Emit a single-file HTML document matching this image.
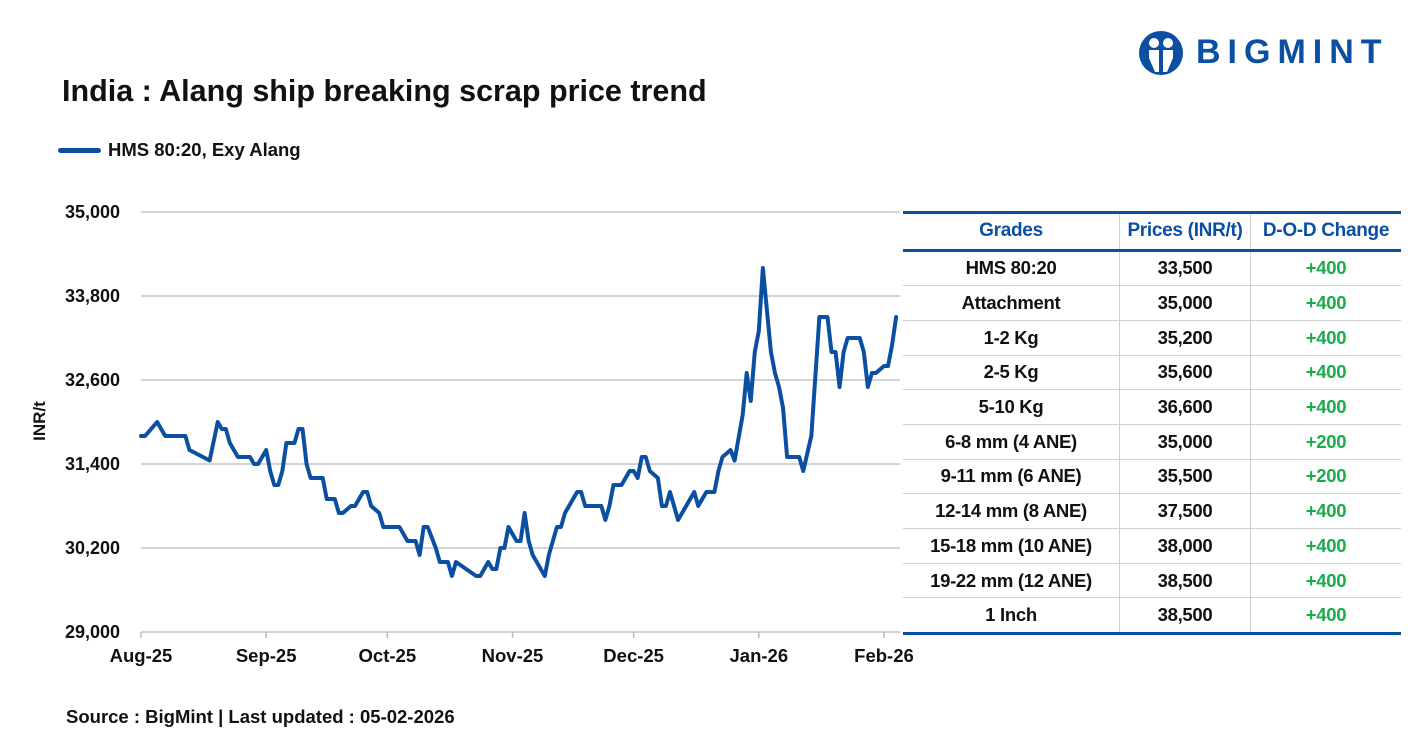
<!DOCTYPE html>
<html><head><meta charset="utf-8"><style>
body{margin:0;width:1410px;height:736px;background:#fff;font-family:"Liberation Sans",sans-serif;overflow:hidden;position:relative}
.t{position:absolute;font-weight:bold;color:#111;white-space:nowrap}
table{position:absolute;left:903px;top:211px;width:498px;border-collapse:collapse;font-family:"Liberation Sans",sans-serif;font-weight:bold;font-size:18.5px;letter-spacing:-0.3px}
th{color:#0b4fa3;height:34.5px;border-top:3px solid #0b4fa3;border-bottom:3px solid #0b4fa3;padding:0;font-size:19px}
td{height:33.7px;padding:0;text-align:center;border-bottom:1.5px solid #d0d0d0;color:#111}
td+td,th+th{border-left:1.5px solid #d0d0d0}
tr:last-child td{border-bottom:3px solid #0b4fa3}
.g{color:#1aab4a}
</style></head><body>
<div class="t" style="left:1138px;top:30px;width:250px;height:46px">
<svg width="46" height="46" viewBox="0 0 46 46" style="position:absolute;left:0;top:0"><circle cx="23" cy="23" r="22" fill="#0b4fa3"/><circle cx="16" cy="13" r="5" fill="#fff"/><circle cx="30" cy="13" r="5" fill="#fff"/><path d="M11 20 h10 v22 h-4 l-6 -14z M25 20 h10 l0 8 -6 14 h-4z" fill="#fff"/></svg>
<span style="position:absolute;left:58px;top:3px;font-size:34px;color:#0b4fa3;letter-spacing:7px;font-weight:900">BIGMINT</span></div>
<div class="t" style="left:62px;top:74px;font-size:30.5px">India : Alang ship breaking scrap price trend</div>
<div style="position:absolute;left:58px;top:148px;width:43px;height:5px;border-radius:3px;background:#0b4fa3"></div>
<div class="t" style="left:108px;top:139px;font-size:18.5px">HMS 80:20, Exy Alang</div>
<div class="t" style="left:20px;top:411px;font-size:17px;transform:rotate(-90deg);transform-origin:center">INR/t</div>
<div class="t" style="left:66px;top:706px;font-size:18.5px">Source : BigMint | Last updated : 05-02-2026</div>
<svg id="chart" width="1410" height="736" style="position:absolute;left:0;top:0"></svg>
<table>
<tr><th style="width:216px">Grades</th><th style="width:130px">Prices (INR/t)</th><th>D-O-D Change</th></tr>
<tr><td>HMS 80:20</td><td>33,500</td><td class="g">+400</td></tr>
<tr><td>Attachment</td><td>35,000</td><td class="g">+400</td></tr>
<tr><td>1-2 Kg</td><td>35,200</td><td class="g">+400</td></tr>
<tr><td>2-5 Kg</td><td>35,600</td><td class="g">+400</td></tr>
<tr><td>5-10 Kg</td><td>36,600</td><td class="g">+400</td></tr>
<tr><td>6-8 mm (4 ANE)</td><td>35,000</td><td class="g">+200</td></tr>
<tr><td>9-11 mm (6 ANE)</td><td>35,500</td><td class="g">+200</td></tr>
<tr><td>12-14 mm (8 ANE)</td><td>37,500</td><td class="g">+400</td></tr>
<tr><td>15-18 mm (10 ANE)</td><td>38,000</td><td class="g">+400</td></tr>
<tr><td>19-22 mm (12 ANE)</td><td>38,500</td><td class="g">+400</td></tr>
<tr><td>1 Inch</td><td>38,500</td><td class="g">+400</td></tr>
</table>
<script>
const days=[0,1,4,6,11,12,17,19,20,21,22,24,27,28,29,31,32,33,34,35,36,38,39,40,41,42,45,46,48,49,50,52,53,55,56,57,59,60,64,66,68,69,70,71,73,74,76,77,78,83,84,86,87,88,89,90,91,93,94,95,96,97,100,101,103,104,105,108,109,110,114,115,116,117,119,121,122,123,124,125,126,128,129,130,131,133,135,137,138,140,142,143,144,146,147,149,150,151,152,153,154,156,157,158,159,160,163,164,166,168,170,171,172,173,174,175,178,179,180,181,182,184,185,186,187];
const prices=[31800,31800,32000,31800,31800,31600,31450,32000,31900,31900,31700,31500,31500,31400,31400,31600,31300,31100,31100,31300,31700,31700,31900,31900,31400,31200,31200,30900,30900,30700,30700,30800,30800,31000,31000,30800,30700,30500,30500,30300,30300,30100,30500,30500,30200,30000,30000,29800,30000,29800,29800,30000,29900,29900,30200,30200,30500,30300,30300,30700,30300,30100,29800,30100,30500,30500,30700,31000,31000,30800,30800,30600,30800,31100,31100,31300,31300,31200,31500,31500,31300,31200,30800,30800,31000,30600,30800,31000,30800,31000,31000,31300,31500,31600,31450,32100,32700,32300,33000,33300,34200,33000,32700,32500,32200,31500,31500,31300,31800,33500,33500,33000,33000,32500,33000,33200,33200,33000,32500,32700,32700,32800,32800,33100,33500];
const yTicks=[29000,30200,31400,32600,33800,35000];
const yTickLabels=["29,000","30,200","31,400","32,600","33,800","35,000"];
const xTickDays=[0,31,61,92,122,153,184];
const xTickLabels=["Aug-25","Sep-25","Oct-25","Nov-25","Dec-25","Jan-26","Feb-26"];
const NS="http://www.w3.org/2000/svg",svg=document.getElementById('chart');
const X=d=>141+d*(884-141)/184, Y=v=>632-(v-29000)*420/6000;
function mk(t,a){const e=document.createElementNS(NS,t);for(const k in a)e.setAttribute(k,a[k]);svg.appendChild(e);return e;}
yTicks.forEach((v,i)=>{
 const l=mk('line',{x1:141,x2:900,y1:Y(v),y2:Y(v),stroke:'#d4d4d4','stroke-width':2});
 
 
 const t=mk('text',{x:120,y:Y(v)+6,'text-anchor':'end','font-size':18,'font-weight':'bold',fill:'#111','font-family':'Liberation Sans, sans-serif'});
 t.textContent=yTickLabels[i];
 
 
});
xTickDays.forEach((d,i)=>{
 const k=mk('line',{x1:X(d),x2:X(d),y1:632,y2:638,stroke:'#bbb','stroke-width':1.5});
 
 
 const t=mk('text',{x:X(d),y:662,'text-anchor':'middle','font-size':18.5,'font-weight':'bold',fill:'#111','font-family':'Liberation Sans, sans-serif'});
 t.textContent=xTickLabels[i];
 
 
});
const p=mk('polyline',{points:days.map((d,i)=>X(d)+','+Y(prices[i])).join(' '),fill:'none',stroke:'#0b4fa3','stroke-width':4,'stroke-linejoin':'round','stroke-linecap':'round'});


</script>
</body></html>
